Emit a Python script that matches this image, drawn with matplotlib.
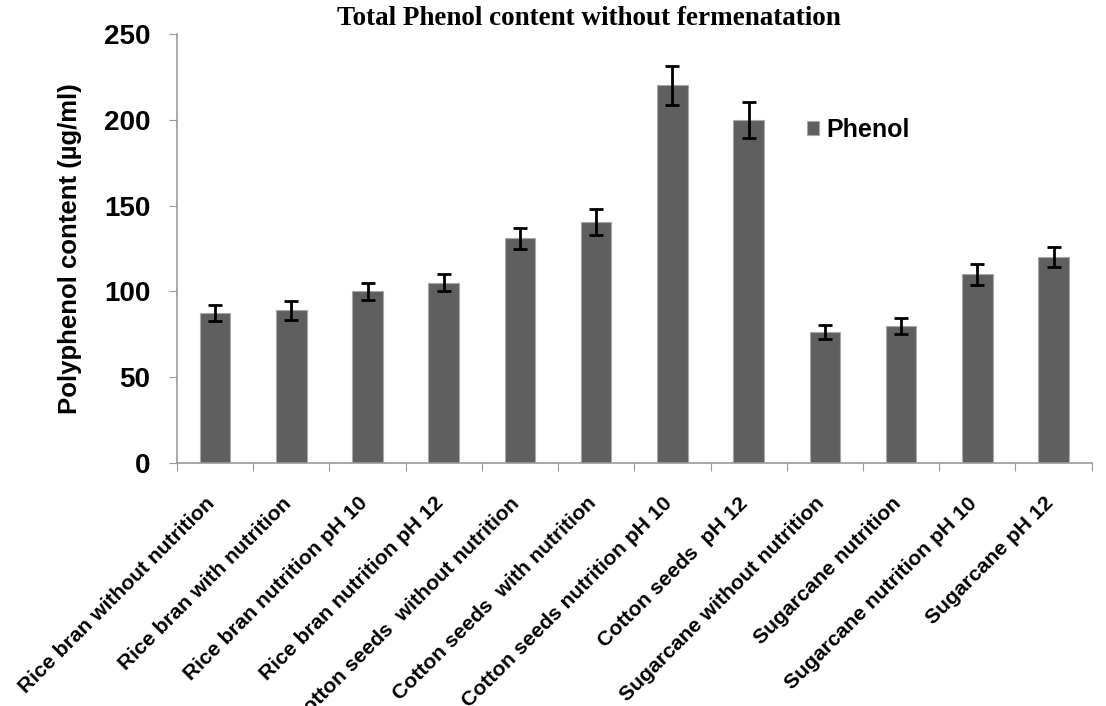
import matplotlib
matplotlib.use('Agg')
import matplotlib.pyplot as plt
import matplotlib.transforms as mtransforms
import numpy as np

categories = ['Rice bran without nutrition', 'Rice bran with nutrition',
              'Rice bran nutrition pH 10', 'Rice bran nutrition pH 12',
              'Cotton seeds  without nutrition', 'Cotton seeds  with nutrition',
              'Cotton seeds nutrition pH 10', 'Cotton seeds  pH 12',
              'Sugarcane without nutrition', 'Sugarcane nutrition',
              'Sugarcane nutrition pH 10', 'Sugarcane pH 12']
phenol = [87.5, 89, 100, 105, 131, 140.5, 220, 200, 76.5, 80, 110, 120]
phenol_err = [4.5, 5.5, 5, 5, 6, 7.5, 11.5, 10.5, 4, 4.5, 6, 6]

fig = plt.figure(figsize=(11.06, 7.06), dpi=100)
ax = fig.add_axes([0.16, 0.344, 0.827, 0.608])

x = np.arange(len(categories))
ax.bar(x, phenol, 0.4, color='#5f5f5f', edgecolor='#a8a8a8', linewidth=0.8,
       label='Phenol', zorder=2)
ax.errorbar(x, phenol, yerr=phenol_err, fmt='none', ecolor='black',
            elinewidth=2, capsize=5, capthick=2, zorder=3)

ax.set_xlim(-0.5, len(categories) - 0.5)
ax.set_ylim(0, 250)
ax.set_yticks([0, 50, 100, 150, 200, 250])
ax.set_yticklabels(['0', '50', '100', '150', '200', '250'],
                   fontsize=20, fontweight='bold', family='Liberation Sans')

# category boundary ticks; rotated labels drawn as text under each bar
ax.set_xticks(np.arange(len(categories) + 1) - 0.5)
ax.set_xticklabels([])
lbl_trans = ax.get_xaxis_transform() + mtransforms.ScaledTranslation(
    -0.10, -0.305, fig.dpi_scale_trans)
for xi, name in zip(x, categories):
    ax.text(xi, 0, name, transform=lbl_trans, rotation=45, ha='right', va='top',
            rotation_mode='anchor', fontsize=15.2, fontweight='bold',
            family='Liberation Sans', clip_on=False)
ax.tick_params(axis='x', which='major', length=6, color='#999999', direction='out')
ax.tick_params(axis='y', length=6, color='#999999', direction='out', pad=13)

for s in ['top', 'right']:
    ax.spines[s].set_visible(False)
for s in ['left', 'bottom']:
    ax.spines[s].set_color('#999999')
    ax.spines[s].set_linewidth(1.2)

ax.set_ylabel('Polyphenol content (µg/ml)', fontsize=18.5, fontweight='bold',
              family='Liberation Sans', labelpad=16)

leg = ax.legend(loc='center left', bbox_to_anchor=(0.664, 0.776), frameon=False,
                prop={'family': 'Liberation Sans', 'weight': 'bold', 'size': 18},
                handlelength=0.5, handleheight=0.45, handletextpad=0.3)

fig.text(0.532, 0.974, 'Total Phenol content without fermenatation', ha='center',
         va='center', fontsize=19.5, fontweight='bold', family='Liberation Serif')

fig.savefig('out.png', dpi=100)
